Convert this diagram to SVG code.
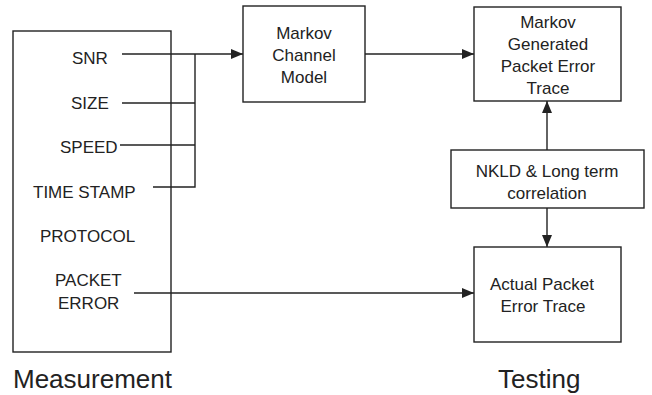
<svg xmlns="http://www.w3.org/2000/svg" width="652" height="395" viewBox="0 0 652 395">
<style>
.box{fill:#fff;stroke:#222;stroke-width:1.4}
.t{font-family:"Liberation Sans",Arial,sans-serif;font-size:17px;fill:#222}
.c{text-anchor:middle}
.big{font-family:"Liberation Sans",Arial,sans-serif;font-size:26px;fill:#222}
.ln{fill:none;stroke:#222;stroke-width:1.4}
</style>
<defs>
<marker id="ah" viewBox="0 0 12 10" refX="12" refY="5" markerWidth="12" markerHeight="10" markerUnits="userSpaceOnUse" orient="auto">
<path d="M0,0 L12,5 L0,10 Z" fill="#222"/>
</marker>
</defs>
<rect width="652" height="395" fill="#fff"/>
<g id="measurement">
<rect class="box" x="13" y="31" width="158" height="321"/>
<text class="t" x="72" y="64">SNR</text>
<text class="t" x="71" y="109">SIZE</text>
<text class="t" x="60" y="153">SPEED</text>
<text class="t" x="33" y="198">TIME STAMP</text>
<text class="t" x="40" y="242">PROTOCOL</text>
<text class="t" x="55" y="286">PACKET</text>
<text class="t" x="58" y="309">ERROR</text>
</g>
<g id="markov-model">
<rect class="box" x="243" y="6" width="122" height="96"/>
<text class="t c" x="304" y="39">Markov</text>
<text class="t c" x="304" y="61">Channel</text>
<text class="t c" x="304" y="83">Model</text>
</g>
<g id="markov-trace">
<rect class="box" x="474" y="7" width="147" height="94"/>
<text class="t c" x="548" y="28">Markov</text>
<text class="t c" x="548" y="50">Generated</text>
<text class="t c" x="548" y="72">Packet Error</text>
<text class="t c" x="548" y="94">Trace</text>
</g>
<g id="nkld">
<rect class="box" x="451" y="150" width="193" height="58"/>
<text class="t c" x="547" y="177">NKLD &amp; Long term</text>
<text class="t c" x="547" y="199">correlation</text>
</g>
<g id="actual-trace">
<rect class="box" x="474" y="247" width="147" height="95"/>
<text class="t c" x="542" y="290">Actual Packet</text>
<text class="t c" x="543" y="312">Error Trace</text>
</g>
<g id="connectors">
<path class="ln" d="M122,54 H243" marker-end="url(#ah)"/>
<path class="ln" d="M122,103 H195"/>
<path class="ln" d="M120,145 H195"/>
<path class="ln" d="M153,187 H195 V54"/>
<path class="ln" d="M365,54 H474" marker-end="url(#ah)"/>
<path class="ln" d="M547,150 V101" marker-end="url(#ah)"/>
<path class="ln" d="M547,208 V247" marker-end="url(#ah)"/>
<path class="ln" d="M134,293 H474" marker-end="url(#ah)"/>
</g>
<g id="labels">
<text class="big" x="13" y="388">Measurement</text>
<text class="big" x="498" y="388">Testing</text>
</g>
</svg>
